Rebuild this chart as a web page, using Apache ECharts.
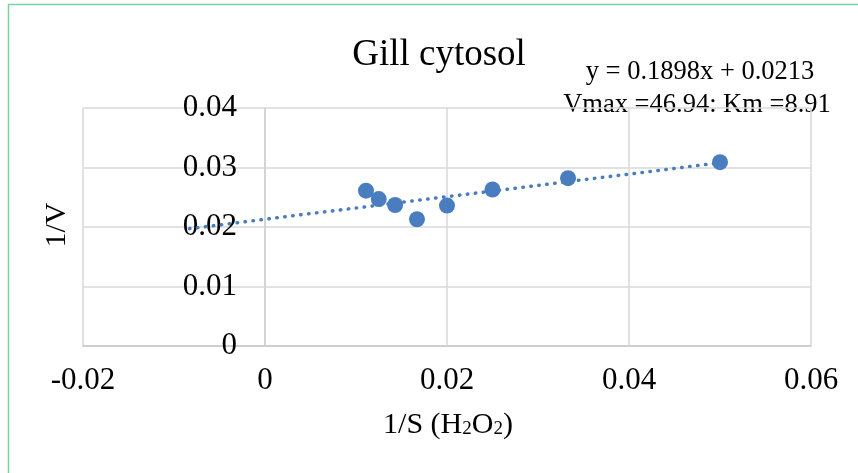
<!DOCTYPE html>
<html>
<head>
<meta charset="utf-8">
<script src="https://cdn.jsdelivr.net/npm/echarts@6/dist/echarts.min.js"></script>
<style>
html,body{margin:0;padding:0;background:#fff;}
#chart{width:858px;height:473px;}
</style>
</head>
<body>
<div id="chart"></div>
<script>
// Data
const xValues = [0.0111, 0.0125, 0.0143, 0.0167, 0.0200, 0.0250, 0.0333, 0.0500];
const yValues = [0.0261, 0.0247, 0.0237, 0.0213, 0.0236, 0.0263, 0.0282, 0.0309];
// Trendline as displayed: y = 0.1898x + 0.0213
const trendSlope = 0.1898;
const trendIntercept = 0.0213;
const trendRange = [-0.0083, 0.0500];
// Axis ticks
const xTicks = { min: -0.02, max: 0.06, interval: 0.02 };
const yTicks = { min: 0, max: 0.04, interval: 0.01 };
const titleText = 'Gill cytosol';
const equationLines = ['y = 0.1898x + 0.0213', 'Vmax =46.94: Km =8.91'];

const FONT = '"Liberation Serif", "Times New Roman", serif';
const BLUE = '#4a7dbf';

const scatterData = xValues.map((x, i) => [x, yValues[i]]);
const trendData = trendRange.map(x => [x, trendSlope * x + trendIntercept]);

const chart = echarts.init(document.getElementById('chart'), null, { renderer: 'canvas' });
chart.setOption({
  animation: false,
  backgroundColor: '#fff',
  grid: { left: 83, right: 47, top: 108, bottom: 127, containLabel: false },
  xAxis: {
    type: 'value',
    min: xTicks.min, max: xTicks.max, interval: xTicks.interval,
    axisLine: { show: true, onZero: true, lineStyle: { color: '#c9c9c9', width: 1.5 } },
    axisTick: { show: false },
    axisLabel: { fontFamily: FONT, fontSize: 31, color: '#000', margin: 19 },
    splitLine: { show: true, lineStyle: { color: '#d9d9d9', width: 1.5 } }
  },
  yAxis: {
    type: 'value',
    min: yTicks.min, max: yTicks.max, interval: yTicks.interval,
    axisLine: { show: true, onZero: true, lineStyle: { color: '#d0d0d0', width: 1.5 } },
    axisTick: { show: false },
    axisLabel: { fontFamily: FONT, fontSize: 31, color: '#000', margin: -154, align: 'right' },
    splitLine: { show: true, lineStyle: { color: '#d9d9d9', width: 1.5 } }
  },
  series: [
    {
      type: 'line',
      data: trendData,
      symbol: 'none',
      silent: true,
      lineStyle: { color: BLUE, width: 3.5, type: [0.5, 7.5], cap: 'round' },
      z: 2
    },
    {
      type: 'scatter',
      data: scatterData,
      symbol: 'circle',
      symbolSize: 16,
      itemStyle: { color: BLUE, opacity: 1 },
      z: 3
    }
  ],
  graphic: [
    {
      type: 'rect', silent: true, z: 0,
      shape: { x: 8.5, y: 4.5, width: 900, height: 520 },
      style: { fill: 'none', stroke: '#7dd3a0', lineWidth: 1.5 }
    },
    {
      type: 'text', x: 439, y: 55, silent: true,
      style: { text: titleText, font: '37px ' + FONT, fill: '#000', align: 'center', verticalAlign: 'middle' }
    },
    {
      type: 'text', x: 700, y: 72, silent: true,
      style: { text: equationLines[0], font: '26.5px ' + FONT, fill: '#000', align: 'center', verticalAlign: 'middle' }
    },
    {
      type: 'text', x: 697, y: 105, silent: true,
      style: { text: equationLines[1], font: '26.5px ' + FONT, fill: '#000', align: 'center', verticalAlign: 'middle' }
    },
    {
      type: 'text', x: 448, y: 425, silent: true,
      style: {
        text: '{n|1/S (H}{s|2}{n|O}{s|2}{n|)}',
        align: 'center', verticalAlign: 'middle',
        rich: {
          n: { fontFamily: FONT, fontSize: 30, fill: '#000', color: '#000' },
          s: { fontFamily: FONT, fontSize: 19, fill: '#000', color: '#000', padding: [8, 0, 0, 0] }
        }
      }
    },
    {
      type: 'text', x: 57, y: 225, rotation: Math.PI / 2, silent: true,
      style: { text: '1/V', font: '30px ' + FONT, fill: '#000', align: 'center', verticalAlign: 'middle' }
    }
  ]
});
</script>
</body>
</html>
